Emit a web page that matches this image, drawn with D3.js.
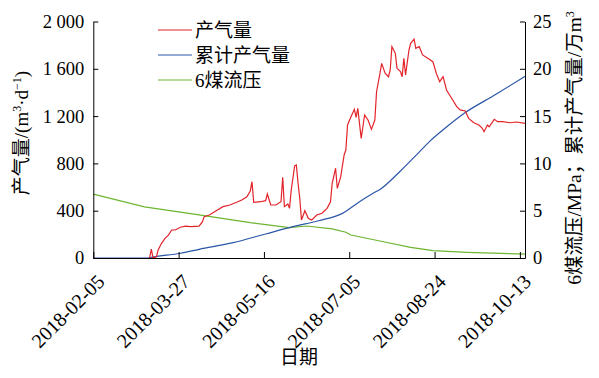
<!DOCTYPE html>
<html>
<head>
<meta charset="utf-8">
<script src="https://cdn.jsdelivr.net/npm/d3@7"></script>
<style>
  body { margin: 0; background: #fff; }
  text { font-family: "Liberation Serif", "Noto Sans CJK SC", serif; fill: #000; }
</style>
</head>
<body>
<div id="chart"></div>
<script>
// 产气量 (m3/d)
const rateDates = ["2018-03-10","2018-03-11","2018-03-12","2018-03-14","2018-03-15","2018-03-17","2018-03-19","2018-03-21","2018-03-23","2018-03-25",
  "2018-03-28","2018-03-31","2018-04-03","2018-04-08","2018-04-10","2018-04-11","2018-04-14","2018-04-18","2018-04-22","2018-04-26",
  "2018-04-30","2018-05-03","2018-05-06","2018-05-08","2018-05-09","2018-05-10","2018-05-14","2018-05-17","2018-05-18","2018-05-20",
  "2018-05-23","2018-05-26","2018-05-27","2018-05-28","2018-05-30","2018-05-31","2018-06-01","2018-06-03","2018-06-04","2018-06-05",
  "2018-06-06","2018-06-07","2018-06-09","2018-06-11","2018-06-13","2018-06-16","2018-06-19","2018-06-22","2018-06-24","2018-06-25",
  "2018-06-27","2018-06-28","2018-06-30","2018-07-02","2018-07-03","2018-07-04","2018-07-06","2018-07-08","2018-07-09","2018-07-10",
  "2018-07-11","2018-07-12","2018-07-14","2018-07-16","2018-07-18","2018-07-20","2018-07-21","2018-07-23","2018-07-24","2018-07-26",
  "2018-07-28","2018-07-29","2018-07-30","2018-08-01","2018-08-02","2018-08-04","2018-08-05","2018-08-06","2018-08-07","2018-08-09",
  "2018-08-10","2018-08-12","2018-08-13","2018-08-15","2018-08-17","2018-08-20","2018-08-23","2018-08-25","2018-08-27","2018-08-29",
  "2018-08-31","2018-09-03","2018-09-06","2018-09-08","2018-09-11","2018-09-13","2018-09-16","2018-09-19","2018-09-21","2018-09-22",
  "2018-09-24","2018-09-25","2018-09-28","2018-09-30","2018-10-03","2018-10-07","2018-10-11","2018-10-16"];
const rateValues = [0,76,0,10,68,124,166,194,237,237,
  260,270,265,270,307,350,364,400,434,448,
  471,490,518,567,645,470,476,485,541,448,
  448,476,682,434,457,420,575,778,786,632,
  505,321,400,336,321,364,378,420,476,632,
  759,589,688,871,913,1125,1195,1257,1190,1266,
  1139,1012,1209,1167,1088,1167,1406,1562,1646,1562,
  1533,1590,1787,1731,1604,1576,1533,1689,1548,1759,
  1815,1850,1773,1787,1717,1689,1660,1562,1491,1533,
  1421,1351,1280,1252,1243,1181,1144,1125,1097,1068,
  1125,1110,1173,1153,1153,1144,1150,1139];

// 累计产气量 (万m3)
const cumDates = ["2018-02-05","2018-03-09","2018-03-12","2018-03-28","2018-04-08","2018-04-28","2018-05-17","2018-06-02","2018-06-17","2018-07-01",
  "2018-07-11","2018-07-19","2018-07-23","2018-08-04","2018-08-15","2018-08-21","2018-08-29","2018-09-10","2018-09-29","2018-10-16"];
const cumValues = [0,0,0.1,0.5,0.92,1.62,2.54,3.31,3.94,4.72,
  5.95,6.84,7.25,9.2,11.2,12.3,13.55,15.25,17.3,19.2];

// 6煤流压 (MPa)
const presDates = ["2018-02-05","2018-03-07","2018-04-08","2018-05-08","2018-05-31","2018-06-10","2018-06-25","2018-07-03","2018-07-06","2018-07-25",
  "2018-08-10","2018-08-23","2018-09-12","2018-10-16"];
const presValues = [6.75,5.4,4.55,3.73,3.22,3.38,3.07,2.72,2.43,1.72,
  1.13,0.77,0.6,0.42];

const xTickLabels = ["2018-02-05","2018-03-27","2018-05-16","2018-07-05","2018-08-24","2018-10-13"];
const leftTicks = [0, 400, 800, 1200, 1600, 2000];
const rightTicks = [0, 5, 10, 15, 20, 25];

const seriesNames = ["产气量", "累计产气量", "6煤流压"];
const seriesColors = ["#e3232a", "#2a56a8", "#6cb52f"];

const w = 599;
const h = 378;
const padLeft = 93.3, padRight = 525, padTop = 21.5, padBottom = 258;

const parse = d3.timeParse("%Y-%m-%d");

const xScale = d3.scaleTime()
  .domain([parse("2018-02-05"), parse("2018-10-16")])
  .range([padLeft, padRight]);

const yLeft = d3.scaleLinear().domain([0, 2000]).range([padBottom, padTop]);
const yRight = d3.scaleLinear().domain([0, 25]).range([padBottom, padTop]);

const svg = d3.select("#chart")
  .append("svg")
  .attr("width", w)
  .attr("height", h);

const fmt = d3.formatLocale({ decimal: ".", thousands: " ", grouping: [3], currency: ["", ""] }).format(",d");

// lines
const rateData = rateDates.map((d, i) => [parse(d), rateValues[i]]);
const cumData = cumDates.map((d, i) => [parse(d), cumValues[i]]);
const presData = presDates.map((d, i) => [parse(d), presValues[i]]);

svg.append("path")
  .datum(presData)
  .attr("fill", "none")
  .attr("stroke", seriesColors[2])
  .attr("stroke-width", 1.2)
  .attr("d", d3.line().x(d => xScale(d[0])).y(d => yRight(d[1])));

svg.append("path")
  .datum(cumData)
  .attr("fill", "none")
  .attr("stroke", seriesColors[1])
  .attr("stroke-width", 1.2)
  .attr("d", d3.line().curve(d3.curveMonotoneX).x(d => xScale(d[0])).y(d => yRight(d[1])));

svg.append("path")
  .datum(rateData)
  .attr("fill", "none")
  .attr("stroke", seriesColors[0])
  .attr("stroke-width", 1.2)
  .attr("d", d3.line().x(d => xScale(d[0])).y(d => yLeft(d[1])));

// axes (ticks point inward)
const xAxis = d3.axisBottom(xScale)
  .tickValues(xTickLabels.map(parse))
  .tickFormat(d3.timeFormat("%Y-%m-%d"))
  .tickSizeInner(-6)
  .tickSizeOuter(0);

const gx = svg.append("g")
  .attr("transform", `translate(0, ${padBottom})`)
  .call(xAxis);

gx.selectAll("text")
  .attr("x", 0)
  .attr("y", 0)
  .attr("dy", "0.35em")
  .attr("text-anchor", "end")
  .attr("transform", "translate(7, 20) rotate(-45)")
  .style("font-size", "20px");

const gl = svg.append("g")
  .attr("transform", `translate(${padLeft}, 0)`)
  .call(d3.axisLeft(yLeft).tickValues(leftTicks).tickFormat(fmt).tickSizeInner(-5).tickSizeOuter(0).tickPadding(9));
gl.selectAll("text").style("font-size", "18.5px");

const gr = svg.append("g")
  .attr("transform", `translate(${padRight}, 0)`)
  .call(d3.axisRight(yRight).tickValues(rightTicks).tickSizeInner(-5).tickSizeOuter(0).tickPadding(8));
gr.selectAll("text").style("font-size", "18.5px");

svg.selectAll(".domain, .tick line").attr("stroke", "#000").attr("stroke-width", 1);

// axis titles
const lt = svg.append("text")
  .attr("transform", "translate(28, 133) rotate(-90)")
  .attr("text-anchor", "middle")
  .style("font-size", "19px");
lt.append("tspan").text("产气量/(m");
lt.append("tspan").attr("dy", -7).style("font-size", "12px").text("3");
lt.append("tspan").attr("dy", 7).text("·d");
lt.append("tspan").attr("dy", -7).style("font-size", "12px").text("−1");
lt.append("tspan").attr("dy", 7).text(")");

const rt = svg.append("text")
  .attr("transform", "translate(581, 148) rotate(-90)")
  .attr("text-anchor", "middle")
  .style("font-size", "19.5px");
rt.append("tspan").text("6煤流压/MPa；累计产气量/万m");
rt.append("tspan").attr("dy", -7).style("font-size", "12px").text("3");

svg.append("text")
  .attr("x", 299)
  .attr("y", 364)
  .attr("text-anchor", "middle")
  .style("font-size", "19px")
  .text("日期");

// legend
const legend = svg.append("g");
seriesNames.forEach((name, i) => {
  const y = 30 + i * 25;
  legend.append("line")
    .attr("x1", 158).attr("x2", 192)
    .attr("y1", y).attr("y2", y)
    .attr("stroke", seriesColors[i])
    .attr("stroke-width", 1.2);
  legend.append("text")
    .attr("x", 195)
    .attr("y", y)
    .attr("dy", "0.35em")
    .style("font-size", "19px")
    .text(name);
});
</script>
</body>
</html>
